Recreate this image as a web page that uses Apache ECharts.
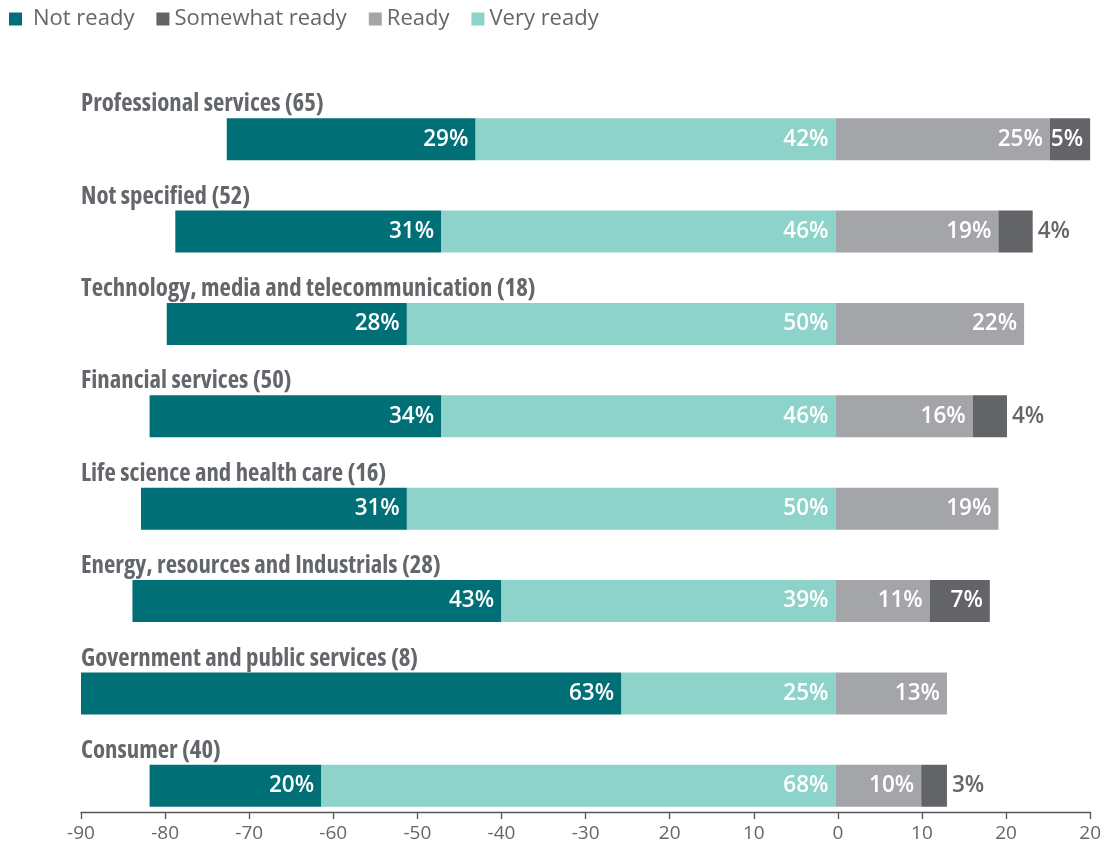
<!DOCTYPE html>
<html><head><meta charset="utf-8">
<script src="https://cdn.jsdelivr.net/npm/echarts@6/dist/echarts.min.js"></script>
<style>html,body{margin:0;padding:0;background:#fff}#c{width:1104px;height:850px}</style>
</head><body><div id="c"></div>
<script>
const categories = [
  'Professional services (65)',
  'Not specified (52)',
  'Technology, media and telecommunication (18)',
  'Financial services (50)',
  'Life science and health care (16)',
  'Energy, resources and Industrials (28)',
  'Government and public services (8)',
  'Consumer (40)'
];
// bar lengths (percentage points)
const notReady      = [29, 31, 28, 34, 31, 43, 63, 20];
const veryReady     = [42, 46, 50, 46, 50, 39, 25, 60];
const ready         = [25, 19, 22, 16, 19, 11, 13, 10];
const somewhatReady = [5, 4, null, 4, null, 7, null, 3];
// printed labels
const notReadyLabels      = ['29%', '31%', '28%', '34%', '31%', '43%', '63%', '20%'];
const veryReadyLabels     = ['42%', '46%', '50%', '46%', '50%', '39%', '25%', '68%'];
const readyLabels         = ['25%', '19%', '22%', '16%', '19%', '11%', '13%', '10%'];
const somewhatReadyLabels = ['5%', '4%', '', '4%', '', '7%', '', '3%'];
const tickLabels = ['-90', '-80', '-70', '-60', '-50', '-40', '-30', '20', '10', '0', '10', '20', '20'];

const chart = echarts.init(document.getElementById('c'), null, {renderer: 'canvas'});
const C = {notReady: '#006f76', somewhat: '#636467', ready: '#a3a5a8', very: '#8ed3ca', text: '#63666a'};
const FONT = "'Open Sans', 'Noto Sans', sans-serif";

function negData(arr) { return arr.map(v => v == null ? null : -v); }
function somewhatData(arr) {
  return arr.map(v => v == null ? null : (v < 5 ? {value: v, label: {position: 'right', color: C.text, distance: 5}} : v));
}
function lbl(labels) {
  return {show: true, position: 'insideRight', distance: 7, color: '#fff', fontSize: 22.5, fontWeight: 600, fontFamily: FONT,
          formatter: p => labels[p.dataIndex]};
}

chart.setOption({
  animation: false,
  legend: {
    left: 4, top: 3, icon: 'rect', itemWidth: 13, itemHeight: 13, itemGap: 22,
    textStyle: {fontSize: 22, color: C.text, fontFamily: FONT},
    data: [
      {name: 'Not ready', textStyle: {padding: [0, 12, 0, 6]}},
      'Somewhat ready', 'Ready', 'Very ready'
    ]
  },
  grid: {left: 81, right: 11, top: 93, bottom: 18},
  xAxis: [
    {type: 'value', min: -88, max: 29.7, show: false},
    {type: 'value', min: -90, max: 30, interval: 10, position: 'bottom', offset: -20,
     axisLine: {show: true, lineStyle: {color: '#555659', width: 1.3}},
     axisTick: {show: true, length: 7, lineStyle: {color: '#555659', width: 1.3}},
     axisLabel: {fontSize: 19, color: C.text, fontFamily: FONT, margin: 12,
                 formatter: v => tickLabels[Math.round((v + 90) / 10)]},
     splitLine: {show: false}}
  ],
  yAxis: {
    type: 'category', inverse: true, data: categories,
    axisLine: {show: false}, axisTick: {show: false},
    axisLabel: {inside: true, margin: 0,
                formatter: v => '{a|' + v + '}\n{b| }',
                rich: {
                  a: {fontSize: 24.8, fontWeight: 'bold condensed', color: C.text, fontFamily: FONT, lineHeight: 30},
                  b: {fontSize: 10, lineHeight: 70}
                }}
  },
  series: [
    {name: 'Very ready', type: 'bar', stack: 'all', xAxisIndex: 0, barWidth: 42,
     itemStyle: {color: C.very}, data: negData(veryReady), label: lbl(veryReadyLabels)},
    {name: 'Not ready', type: 'bar', stack: 'all', xAxisIndex: 0, barWidth: 42,
     itemStyle: {color: C.notReady}, data: negData(notReady), label: lbl(notReadyLabels)},
    {name: 'Ready', type: 'bar', stack: 'all', xAxisIndex: 0, barWidth: 42,
     itemStyle: {color: C.ready}, data: ready.slice(), label: lbl(readyLabels)},
    {name: 'Somewhat ready', type: 'bar', stack: 'all', xAxisIndex: 0, barWidth: 42,
     itemStyle: {color: C.somewhat}, data: somewhatData(somewhatReady), label: lbl(somewhatReadyLabels)}
  ]
});
</script></body></html>
